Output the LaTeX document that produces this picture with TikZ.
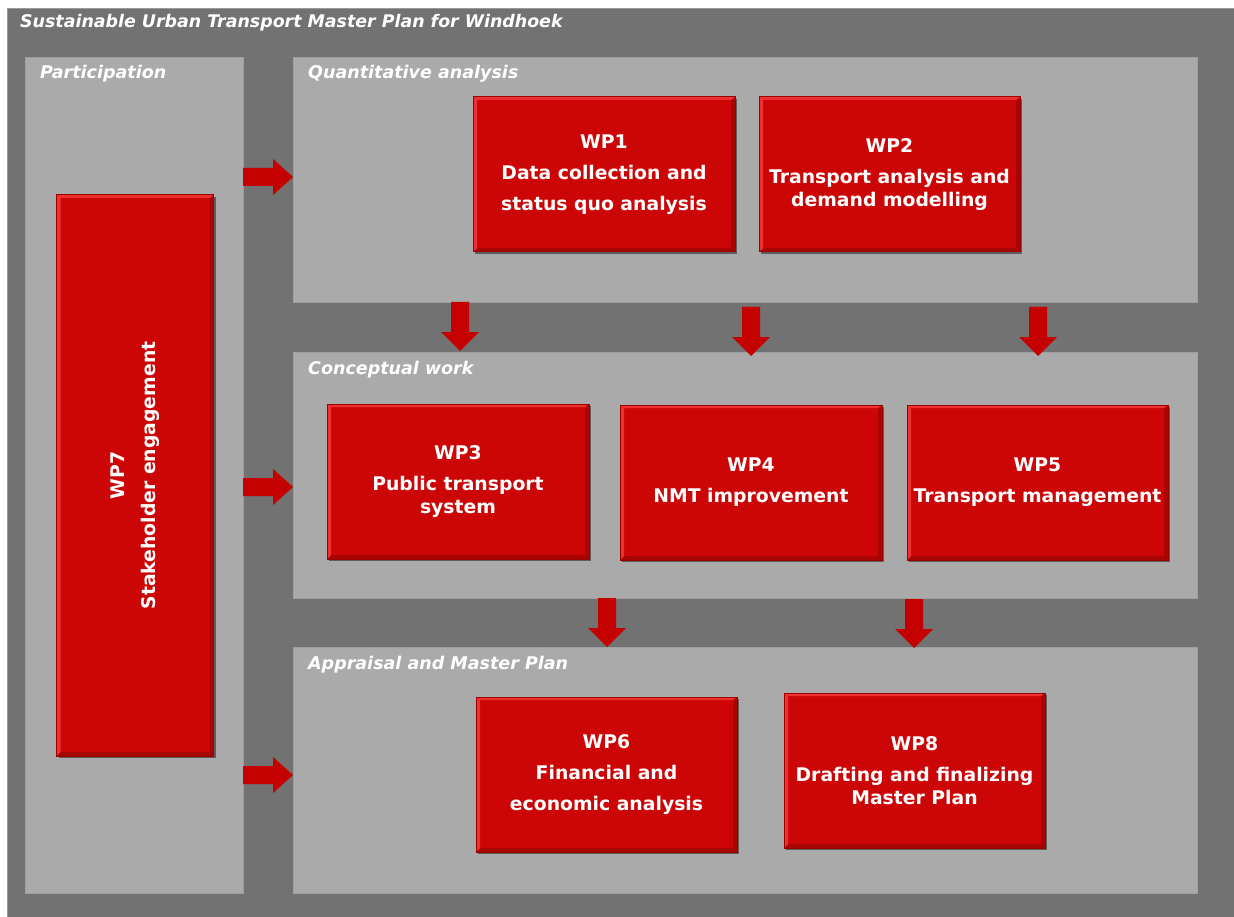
\documentclass[tikz,border=0pt]{standalone}
\usepackage{fontspec}
\setmainfont{DejaVu Sans}
\usetikzlibrary{shadows}
\definecolor{bgdark}{HTML}{727272}
\definecolor{panelgray}{HTML}{AAAAAA}
\definecolor{wpred}{HTML}{CC0606}
\definecolor{wpedge}{HTML}{990000}
\definecolor{wplight}{HTML}{F03030}
\definecolor{wpdark}{HTML}{A80404}
\definecolor{arrred}{HTML}{C40000}
\tikzset{
  panelbox/.style={fill=panelgray, draw=gray!75, line width=0.8pt, anchor=north west, inner sep=0pt},
  paneltitle/.style={anchor=west, text=white, font=\fontsize{17.5}{21}\selectfont\bfseries\itshape, inner sep=0pt},
  wpbox/.style={fill=wpred, draw=wpedge, line width=1pt, text=white, align=center,
    font=\fontsize{18.8}{23}\selectfont\bfseries, inner sep=2pt,
    drop shadow={shadow xshift=2pt, shadow yshift=-2pt, opacity=0.45, fill=black},
    path picture={
      \fill[wpdark] (path picture bounding box.south west) -- (path picture bounding box.south east)
        -- (path picture bounding box.north east) -- ([xshift=-4pt,yshift=-4pt]path picture bounding box.north east)
        -- ([xshift=-4pt,yshift=4pt]path picture bounding box.south east) -- ([xshift=4pt,yshift=4pt]path picture bounding box.south west) -- cycle;
      \fill[wplight] (path picture bounding box.south west) -- (path picture bounding box.north west)
        -- (path picture bounding box.north east) -- ([xshift=-4pt,yshift=-3pt]path picture bounding box.north east)
        -- ([xshift=4pt,yshift=-3pt]path picture bounding box.north west) -- ([xshift=4pt,yshift=4pt]path picture bounding box.south west) -- cycle;
    }},
  rarr/.pic={\fill[arrred] (0,-9) -- (30,-9) -- (30,-18) -- (50,0) -- (30,18) -- (30,9) -- (0,9) -- cycle;},
  darr/.pic={\fill[arrred] (-9,0) -- (-9,30) -- (-19,30) -- (0,49) -- (19,30) -- (9,30) -- (9,0) -- cycle;}
}
\begin{document}
\begin{tikzpicture}[x=1pt,y=-1pt]
\useasboundingbox (0,0) rectangle (1234,917);
\fill[white] (0,0) rectangle (1234,917);
\fill[bgdark] (7,8) rectangle (1234,917);
\draw[gray!80, line width=0.8pt] (7,917) -- (7,8) -- (1234,8);
\node[anchor=west, text=white, font=\fontsize{17.4}{20}\selectfont\bfseries\itshape, inner sep=0pt] (title) at (20,23) {Sustainable Urban Transport Master Plan for Windhoek};

% panels
\node[panelbox, minimum width=218pt, minimum height=836pt] (ppart) at (25,57) {};
\node[panelbox, minimum width=904pt, minimum height=245pt] (pquant) at (293,57) {};
\node[panelbox, minimum width=904pt, minimum height=246pt] (pconc) at (293,352) {};
\node[panelbox, minimum width=904pt, minimum height=246pt] (papp) at (293,647) {};

\node[paneltitle] (tpart) at (40,74) {Participation};
\node[paneltitle] (tquant) at (308,74) {Quantitative analysis};
\node[paneltitle] (tconc) at (308,370) {Conceptual work};
\node[paneltitle] (tapp) at (308,665) {Appraisal and Master Plan};

% arrows
\pic at (243,177) {rarr};
\pic at (243,487) {rarr};
\pic at (243,775) {rarr};
\pic at (460,302) {darr};
\pic at (751,307) {darr};
\pic at (1038,307) {darr};
\pic at (607,598) {darr};
\pic at (914,599) {darr};

% work packages
\node[wpbox, minimum width=157pt, minimum height=561pt] (wp7) at (135,475.5) {};
\node[rotate=90, text=white, align=center, font=\fontsize{18.8}{23}\selectfont\bfseries] (wp7t) at (wp7.center) {WP7\\[8pt]Stakeholder engagement};
\node[wpbox, minimum width=262pt, minimum height=155pt] (wp1) at (604,174.5) {WP1\\[8pt]Data collection and\\[8pt]status quo analysis};
\node[wpbox, minimum width=261pt, minimum height=155pt] (wp2) at (889.5,174.5) {WP2\\[8pt]Transport analysis and\\demand modelling};
\node[wpbox, minimum width=262pt, minimum height=155pt] (wp3) at (458,481.5) {WP3\\[8pt]Public transport\\system};
\node[wpbox, minimum width=262pt, minimum height=155pt] (wp4) at (751,482.5) {WP4\\[8pt]NMT improvement};
\node[wpbox, minimum width=261pt, minimum height=155pt] (wp5) at (1037.5,482.5) {WP5\\[8pt]Transport management};
\node[wpbox, minimum width=261pt, minimum height=155pt] (wp6) at (606.5,774.5) {WP6\\[8pt]Financial and\\[8pt]economic analysis};
\node[wpbox, minimum width=261pt, minimum height=155pt] (wp8) at (914.5,770.5) {WP8\\[8pt]Drafting and finalizing\\Master Plan};
\end{tikzpicture}
\end{document}
